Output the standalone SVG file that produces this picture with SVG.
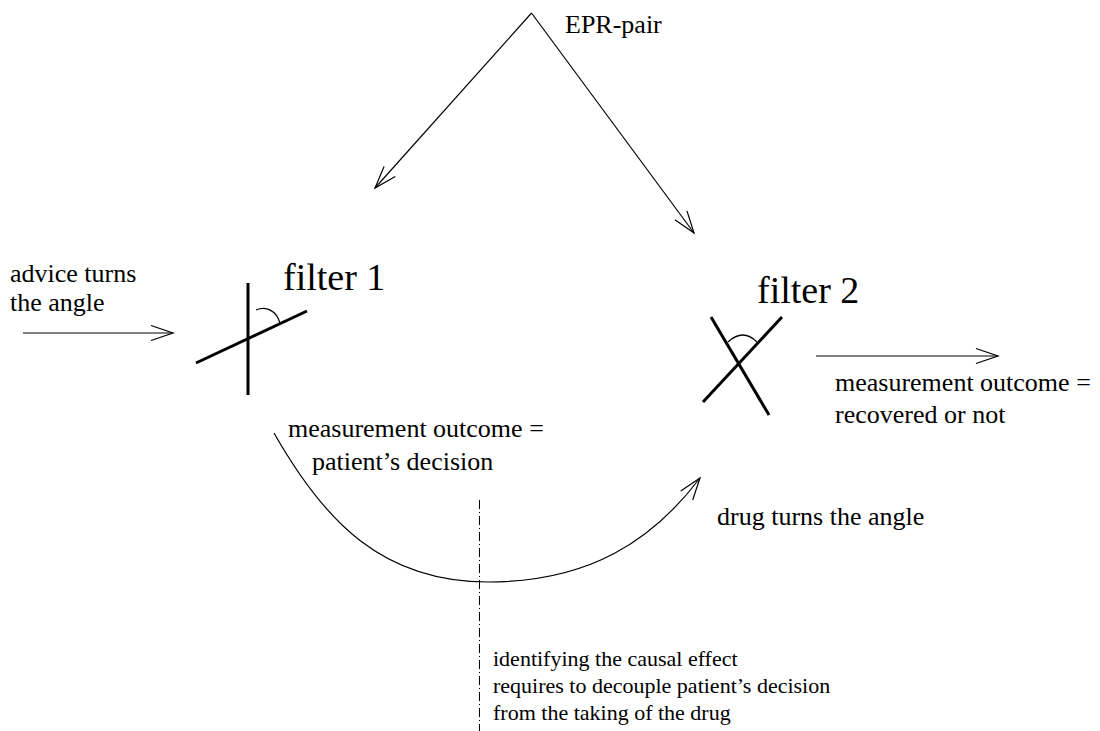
<svg xmlns="http://www.w3.org/2000/svg" width="1100" height="731" viewBox="0 0 1100 731">
<style>
text{font-family:"Liberation Serif","Times New Roman",serif;fill:#000}
.lbl{font-size:26px}
.big{font-size:38px}
.small{font-size:22px}
.thin{fill:none;stroke:#000;stroke-width:1.2}
.thick{fill:none;stroke:#000;stroke-width:3}
</style>
<defs>
<marker id="ah" markerUnits="userSpaceOnUse" viewBox="-24 -10 26 20" refX="0" refY="0" markerWidth="26" markerHeight="20" orient="auto" overflow="visible">
<path d="M-22,-7.5 L0,0 L-22,7.5" fill="none" stroke="#000" stroke-width="1.2"/>
</marker>
</defs>
<rect width="1100" height="731" fill="#fff"/>
<g id="connectors">
<line class="thin" x1="531.5" y1="13" x2="375" y2="188" marker-end="url(#ah)"/>
<line class="thin" x1="531.5" y1="13" x2="694" y2="233" marker-end="url(#ah)"/>
<line class="thin" x1="23" y1="333" x2="173" y2="333" marker-end="url(#ah)"/>
<line class="thin" x1="816" y1="356" x2="998" y2="356" marker-end="url(#ah)"/>
<path class="thin" d="M274,433 C324,521 382,582 488,582 C590,582 653,540 700,478" marker-end="url(#ah)"/>
<line x1="479.5" y1="500" x2="479.5" y2="731" stroke="#000" stroke-width="1" stroke-dasharray="9 3 1 3"/>
</g>
<g id="epr">
<text class="lbl" x="565" y="33">EPR-pair</text>
</g>
<g id="advice">
<text class="lbl" x="10" y="282">advice turns</text>
<text class="lbl" x="10" y="311">the angle</text>
</g>
<g id="filter1">
<line class="thick" x1="248" y1="283" x2="248" y2="395"/>
<line class="thick" x1="196" y1="363" x2="307" y2="311"/>
<path class="thin" d="M256,310 C266,306 276,310 280,323"/>
<text class="big" x="283" y="290">filter 1</text>
</g>
<g id="filter2">
<line class="thick" x1="711" y1="317" x2="769" y2="415"/>
<line class="thick" x1="703" y1="402" x2="782" y2="317"/>
<path class="thin" d="M728,342 Q743,328 757,342"/>
<text class="big" x="757" y="303">filter 2</text>
</g>
<g id="outcome1">
<text class="lbl" x="288" y="437">measurement outcome =</text>
<text class="lbl" x="312" y="470">patient’s decision</text>
</g>
<g id="outcome2">
<text class="lbl" x="835" y="391">measurement outcome =</text>
<text class="lbl" x="835" y="423">recovered or not</text>
</g>
<g id="drug">
<text class="lbl" x="717" y="525">drug turns the angle</text>
</g>
<g id="note">
<text class="small" x="493" y="666">identifying the causal effect</text>
<text class="small" x="493" y="693">requires to decouple patient’s decision</text>
<text class="small" x="493" y="720">from the taking of the drug</text>
</g>
</svg>
